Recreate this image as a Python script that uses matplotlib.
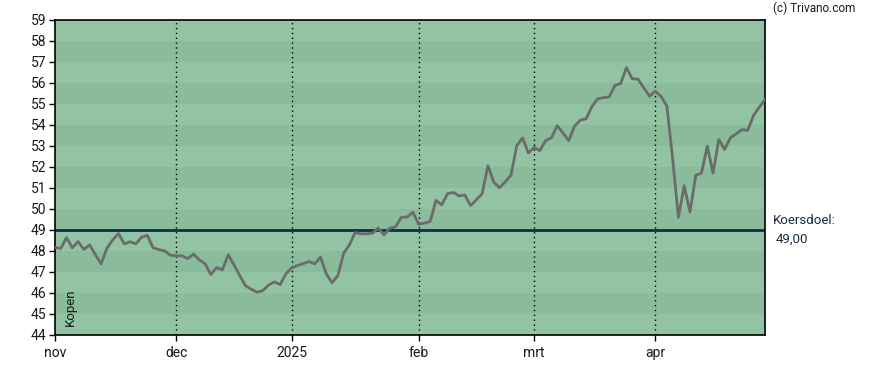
import numpy as np
import pandas as pd
import matplotlib
matplotlib.use("Agg")
import matplotlib.pyplot as plt

plt.rcParams['font.family'] = ['Roboto', 'DejaVu Sans']

# koersdata per handelsdag, nov 2024 t/m apr 2025
nov = [48.17, 48.12, 48.64, 48.15, 48.45, 48.07, 48.29, 47.82, 47.39, 48.14, 48.53,
       48.83, 48.34, 48.44, 48.34, 48.66, 48.74, 48.15, 48.07, 48.00, 47.80]
dec = [47.77, 47.77, 47.64, 47.85, 47.58, 47.39, 46.88, 47.21, 47.10, 47.82,
       47.34, 46.83, 46.35, 46.18, 46.04, 46.11, 46.38, 46.53, 46.40, 46.91]
jan = [47.19, 47.31, 47.40, 47.50, 47.39, 47.71, 46.91, 46.49, 46.83, 47.89, 48.29,
       48.88, 48.82, 48.82, 48.85, 49.09, 48.77, 49.09, 49.15, 49.60, 49.62, 49.85]
feb = [49.27, 49.33, 49.41, 50.41, 50.20, 50.73, 50.79, 50.62, 50.67, 50.16,
       50.44, 50.73, 52.06, 51.29, 51.01, 51.29, 51.62, 53.02, 53.39, 52.67]
mrt = [52.94, 52.78, 53.26, 53.39, 53.97, 53.62, 53.26, 53.94, 54.23, 54.29, 54.87,
       55.25, 55.30, 55.34, 55.88, 55.98, 56.73, 56.20, 56.18, 55.77, 55.37]
apr = [55.61, 55.36, 54.90, 52.40, 49.60, 51.11, 49.85, 51.60, 51.71, 52.99,
       51.71, 53.31, 52.83, 53.39, 53.58, 53.78, 53.74, 54.45, 54.85, 55.21]
koers = nov + dec + jan + feb + mrt + apr

koersdoel = 49.00
month_labels = ['nov', 'dec', '2025', 'feb', 'mrt', 'apr']

feestdagen = pd.to_datetime(['2024-12-25', '2024-12-26', '2025-01-01', '2025-04-18', '2025-04-21'])
dagen = pd.bdate_range('2024-11-01', '2025-04-30')
dagen = dagen[~dagen.isin(feestdagen)]
x = np.arange(len(koers))

# eerste handelsdag van elke maand
maand = dagen.to_period('M')
month_pos = [i for i in range(len(dagen)) if i == 0 or maand[i] != maand[i - 1]]

fig = plt.figure(figsize=(8.88, 3.70), dpi=100)
ax = fig.add_axes([55 / 888, 1 - 335 / 370, 710 / 888, 315 / 370])

ymin, ymax = 44, 59
for v in range(ymin, ymax):
    kleur = '#92c4a3' if (ymax - v) % 2 == 1 else '#8abb9b'
    ax.axhspan(v, v + 1, color=kleur, lw=0, zorder=0)

for p in month_pos[1:]:
    ax.axvline(p, color='black', ls=(0, (1, 2.5)), lw=1, zorder=1)

ax.axhline(koersdoel, color='#0b2f4f', lw=2, zorder=2)
ax.plot(x, koers, color='#6b6b6b', lw=2, zorder=3)

ax.set_xlim(0, len(koers) - 1)
ax.set_ylim(ymin, ymax)
ax.set_yticks(range(ymin, ymax + 1))
ax.set_xticks(month_pos)
ax.set_xticklabels(month_labels)
ax.tick_params(axis='both', length=4, width=1, labelsize=10, colors='black', labelcolor='#1a1a1a')
ax.tick_params(axis='x', pad=4)
ax.tick_params(axis='y', pad=2)
for s in ax.spines.values():
    s.set_linewidth(1.2)
    s.set_color('black')

ax.text(0.012, 0.03, 'Kopen', rotation=90, transform=ax.transAxes,
        fontsize=9.5, color='#1a1a1a', ha='left', va='bottom')

fig.text(773 / 888, 1 - 221 / 370, 'Koersdoel:', fontsize=9.5, color='#1a2a40', va='center')
fig.text(776 / 888, 1 - 239 / 370, '49,00', fontsize=9.5, color='#1a2a40', va='center')
fig.text(773 / 888, 1 - 8 / 370, '(c) Trivano.com', fontsize=8.5, color='#1a1a1a', va='center')

fig.savefig('out.png', dpi=100)
